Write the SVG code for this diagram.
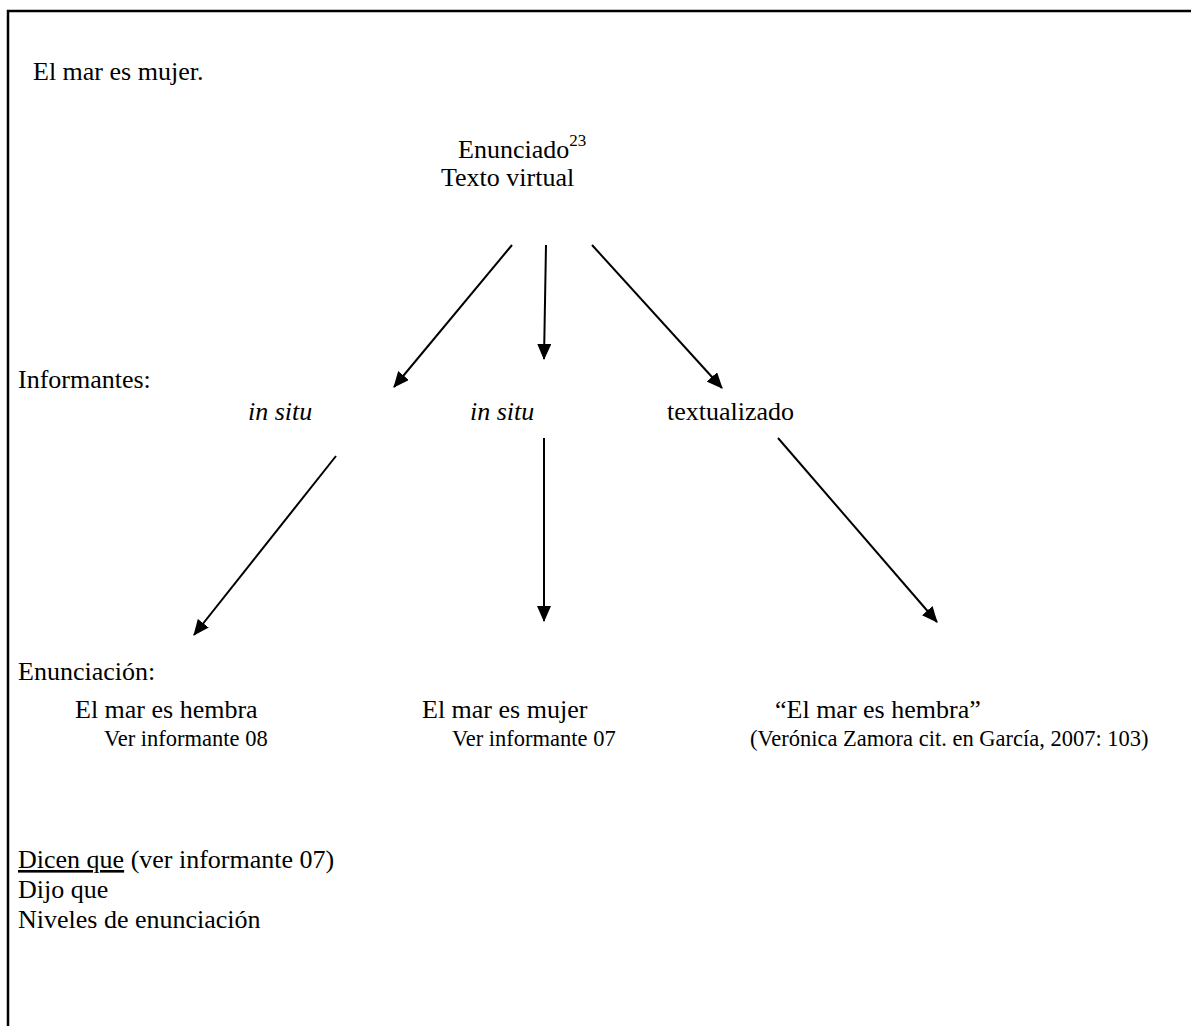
<svg xmlns="http://www.w3.org/2000/svg" width="1191" height="1026" viewBox="0 0 1191 1026">
<defs>
<marker id="ah" markerWidth="16" markerHeight="14" refX="15" refY="7" orient="auto" markerUnits="userSpaceOnUse" viewBox="0 0 16 14">
<path d="M0,0 L16,7 L0,14 z" fill="#000"/>
</marker>
<style>
text{font-family:"Liberation Serif","Times New Roman",serif;fill:#000}
.m{font-size:26px}
.s{font-size:22.5px}
.i{font-style:italic}
.c{stroke:#000;stroke-width:2;fill:none}
</style>
</defs>
<rect width="1191" height="1026" fill="#fff"/>
<path d="M1191,11 H8 V1026" stroke="#000" stroke-width="2.5" fill="none"/>
<g id="title"><text class="m" x="33" y="80">El mar es mujer.</text></g>
<g id="enunciado"><text class="m" x="458" y="158">Enunciado<tspan font-size="17" dy="-12">23</tspan></text>
<text class="m" x="441" y="186">Texto virtual</text></g>
<g id="informantes"><text class="m" x="18" y="388">Informantes:</text></g>
<g id="insitu1"><text class="m i" x="248" y="420">in situ</text></g>
<g id="insitu2"><text class="m i" x="470" y="420">in situ</text></g>
<g id="textualizado"><text class="m" x="667" y="420">textualizado</text></g>
<g id="enunciacion"><text class="m" x="18" y="680">Enunciación:</text></g>
<g id="hembra"><text class="m" x="75" y="718">El mar es hembra</text><text class="s" x="104" y="746">Ver informante 08</text></g>
<g id="mujer"><text class="m" x="422" y="718">El mar es mujer</text><text class="s" x="452" y="746">Ver informante 07</text></g>
<g id="cita"><text class="m" x="775" y="718">“El mar es hembra”</text><text class="s" x="750" y="746">(Verónica Zamora cit. en García, 2007: 103)</text></g>
<g id="niveles"><text class="m" x="18" y="868"><tspan text-decoration="underline">Dicen que</tspan> (ver informante 07)</text>
<text class="m" x="18" y="898">Dijo que</text>
<text class="m" x="18" y="928">Niveles de enunciación</text></g>
<g id="connectors" class="c">
<line class="c" x1="512" y1="245" x2="394" y2="387" marker-end="url(#ah)"/>
<line class="c" x1="546" y1="245" x2="544" y2="359" marker-end="url(#ah)"/>
<line class="c" x1="592" y1="245" x2="722" y2="388" marker-end="url(#ah)"/>
<line class="c" x1="336" y1="456" x2="194" y2="635" marker-end="url(#ah)"/>
<line class="c" x1="544" y1="438" x2="544" y2="621" marker-end="url(#ah)"/>
<line class="c" x1="778" y1="438" x2="937" y2="622" marker-end="url(#ah)"/>
</g>
</svg>
